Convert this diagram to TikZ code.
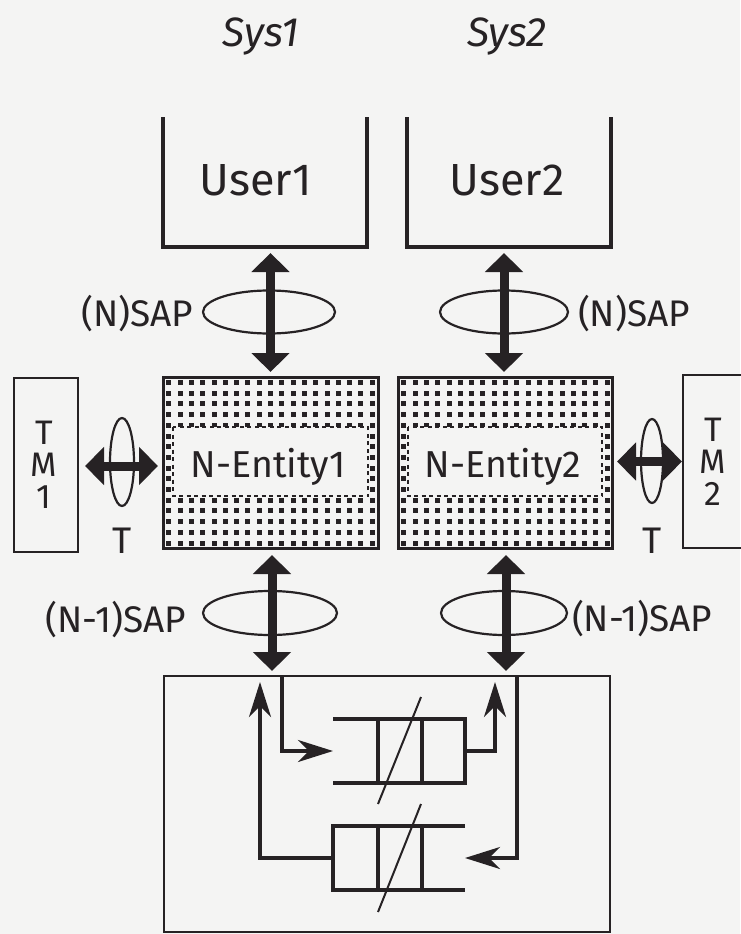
\documentclass[tikz,border=0pt]{standalone}
\usepackage{fontspec}
\setmainfont{Fira Sans}
\usetikzlibrary{arrows.meta,calc}
\definecolor{ink}{RGB}{38,34,36}
\definecolor{paper}{RGB}{244,244,243}
\newcommand\entitydots[2]{%
  \foreach \i in {0,...,18}{\foreach \j in {0,...,15}{%
    \fill[ink] ({#1+3.3+11.3*\i},{#2+3+10.7*\j}) rectangle ++(5,5);}}}
\begin{document}
\begin{tikzpicture}[x=1pt,y=-1pt,
  every node/.style={inner sep=0pt, outer sep=0pt, text=ink},
  ubox/.style={draw=ink, line width=3.8pt, line join=miter},
  ebox/.style={draw=ink, line width=3pt},
  tmbox/.style={draw=ink, line width=2.4pt},
  netbox/.style={draw=ink, line width=2.6pt},
  ring/.style={draw=ink, line width=2.2pt},
  bigarrow/.style={draw=ink, line width=9pt,
    {Triangle[width=37pt,length=19pt]}-{Triangle[width=37pt,length=19pt]}},
  flow/.style={draw=ink, line width=3.4pt, line join=miter,
    -{Stealth[length=35pt,width=22pt,inset=11pt]}},
  qline/.style={draw=ink, line width=3.8pt, line join=miter},
  slash/.style={draw=ink, line width=2pt},
  systxt/.style={font=\itshape\fontsize{41}{41}\selectfont, anchor=base},
  usertxt/.style={font=\fontsize{45}{45}\selectfont, anchor=base},
  enttxt/.style={font=\fontsize{37.5}{37.5}\selectfont, anchor=base},
  sap/.style={font=\fontsize{37}{37}\selectfont},
  tmtxt/.style={font=\fontsize{34}{32}\selectfont, align=center}
]
\fill[paper] (0,0) rectangle (740,934);
\useasboundingbox (0,0) rectangle (740,934);

% titles
\node[systxt] (sys1) at (261,47) {Sys1};
\node[systxt] (sys2) at (507,47) {Sys2};

% user boxes (open at top)
\node[minimum width=204pt, minimum height=130pt] (user1) at (265,182) {};
\node[minimum width=204pt, minimum height=130pt] (user2) at (509,182) {};
\draw[ubox] (user1.north west) -- (user1.south west) -- (user1.south east) -- (user1.north east);
\draw[ubox] (user2.north west) -- (user2.south west) -- (user2.south east) -- (user2.north east);
\node[usertxt] (u1t) at (256,195) {User1};
\node[usertxt] (u2t) at (507,195) {User2};

% entities
\entitydots{163}{377}
\filldraw[fill=paper, draw=ink, line width=1.4pt, dash pattern=on 4pt off 3.5pt] (173,427) rectangle (368,496);
\node[ebox, minimum width=215pt, minimum height=171pt] (ent1) at (270.5,462.5) {};
\entitydots{398}{377}
\filldraw[fill=paper, draw=ink, line width=1.4pt, dash pattern=on 4pt off 3.5pt] (408,427) rectangle (602,496);
\node[ebox, minimum width=214pt, minimum height=171pt] (ent2) at (505,462.5) {};
\node[enttxt] (e1t) at (268,477) {N-Entity1};
\node[enttxt] (e2t) at (503,477) {N-Entity2};

% TM boxes
\node[tmbox, minimum width=64pt, minimum height=174pt] (tm1) at (46,465) {};
\node[tmtxt] (tm1t) at (44,465) {T\\M\\1};
\node[tmbox, minimum width=62pt, minimum height=173pt] (tm2) at (714,461.5) {};
\node[tmtxt] (tm2t) at (713,461.5) {T\\M\\2};

% lower system box
\node[netbox, minimum width=446pt, minimum height=256pt] (net) at (387,804) {};

% rings
\draw[ring] (269,312) ellipse [x radius=66pt, y radius=21.5pt];
\draw[ring] (504,312) ellipse [x radius=64pt, y radius=21.5pt];
\draw[ring] (270,613) ellipse [x radius=67pt, y radius=22pt];
\draw[ring] (504,613) ellipse [x radius=63pt, y radius=22pt];
\draw[ring] (122,462) ellipse [x radius=12pt, y radius=44pt];
\draw[ring] (652,461) ellipse [x radius=11pt, y radius=42pt];

% big double arrows
\draw[bigarrow] ($(user1.south -| ent1.north)+(0,6)$) -- ($(ent1.north)+(0,-5)$);
\draw[bigarrow] ($(user2.south -| ent2.north)+(-1,6)$) -- ($(ent2.north)+(-1,-5)$);
\draw[bigarrow] ($(ent1.south)+(1.5,7)$) -- ($(ent1.south |- net.north)+(1.5,-5)$);
\draw[bigarrow] ($(ent2.south)+(1,7)$) -- ($(ent2.south |- net.north)+(1,-5)$);
\draw[bigarrow] ($(tm1.east)+(7,1)$) -- ($(ent1.west |- tm1.east)+(-5,1)$);
\draw[bigarrow] ($(ent2.east |- tm2.west)+(5,0)$) -- ($(tm2.west)+(-1,0)$);

% labels
\node[sap, anchor=base east] (nsap1) at (193,326) {(N)SAP};
\node[sap, anchor=base west] (nsap2) at (578,326) {(N)SAP};
\node[sap, anchor=base east] (n1sap1) at (186,632) {(N-1)SAP};
\node[sap, anchor=base west] (n1sap2) at (572,631) {(N-1)SAP};
\node[sap, anchor=base] (t1) at (122,553) {T};
\node[sap, anchor=base] (t2) at (652,553) {T};

% queues
\node[minimum width=132pt, minimum height=64pt] (q1) at (399,751) {};
\node[minimum width=132pt, minimum height=64pt] (q2) at (399,858) {};
\draw[qline] (333,719) -- (465,719) -- (465,783) -- (333,783);
\draw[qline] (378,719) -- (378,783) (422,719) -- (422,783);
\draw[qline] (465,826) -- (333,826) -- (333,890) -- (465,890);
\draw[qline] (378,826) -- (378,890) (422,826) -- (422,890);
\draw[slash] (378,804) -- (421,697);
\draw[slash] (378,912) -- (421,804);

% flows
\coordinate (in1) at (282,675);
\coordinate (out1) at (495,682);
\coordinate (in2) at (517,675);
\coordinate (out2) at (260,682);
\draw[flow] (in1) |- (q1.west);
\draw[flow] (q1.east) -| (out1);
\draw[flow] (in2) |- (q2.east);
\draw[flow] (q2.west) -| (out2);
\end{tikzpicture}
\end{document}
